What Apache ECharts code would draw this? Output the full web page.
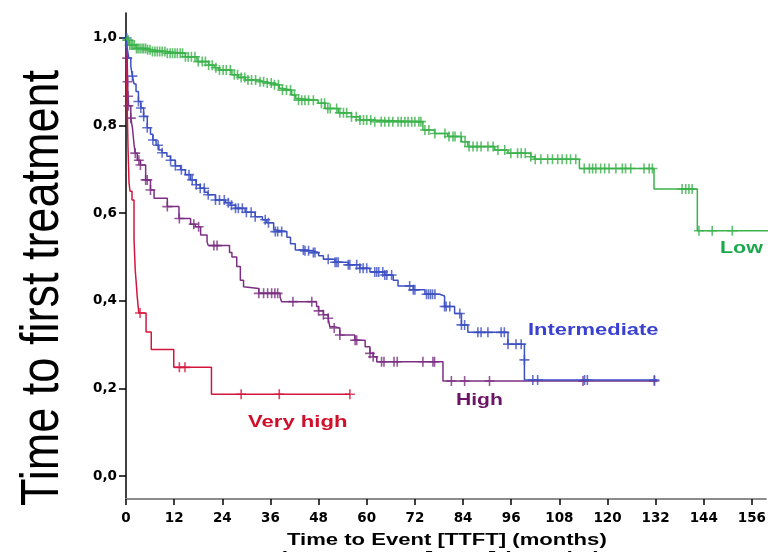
<!DOCTYPE html>
<html><head><meta charset="utf-8">
<script src="https://cdn.jsdelivr.net/npm/echarts@6/dist/echarts.min.js"></script>
<style>html,body{margin:0;padding:0;background:#fff}#c{width:769px;height:552px}</style>
</head><body><div id="c"></div>
<script>
// ---- tick labels ----
const xTicks = [0,12,24,36,48,60,72,84,96,108,120,132,144,156];
const yTicks = [0,0.2,0.4,0.6,0.8,1.0];

// ---- Very high (red): step times / survival after step ----
const vhT = [0,0.1,0.2,0.3,0.5,0.75,1.0,1.5,2.0,2.3,2.5,2.8,3.2,5.0,6.3,11.9,21.3,55.8];
const vhS = [1.0,0.95,0.90,0.843,0.75,0.67,0.65,0.63,0.54,0.47,0.447,0.409,0.372,0.329,0.289,0.248,0.1865,0.1865];
const vhCens = [3.5,13.3,14.7,28.7,38.2,55.8];

// ---- High (purple) ----
const hiT = [0,0.1,0.3,0.4,0.5,0.6,1.2,1.6,2.0,2.3,2.8,3.6,4.9,6.1,7.0,10.3,13.2,16.1,17.3,18.6,20.2,20.5,25.8,26.4,27.6,28.5,29.3,29.7,33.1,38.4,38.8,47.5,48.0,49.2,50.4,50.8,51.9,53.3,57.0,59.6,60.8,61.6,62.5,79.0,132.4];
const hiS = [1.0,0.98,0.954,0.90,0.867,0.845,0.817,0.795,0.757,0.737,0.721,0.71,0.676,0.653,0.634,0.615,0.588,0.575,0.569,0.55,0.535,0.526,0.51,0.5,0.478,0.447,0.432,0.428,0.417,0.408,0.398,0.387,0.377,0.368,0.36,0.341,0.338,0.322,0.31,0.295,0.28,0.272,0.261,0.217,0.217];
const hiCens = [0.3,0.4,0.5,0.6,1.2,2.3,3.2,3.6,4.9,5.3,6.1,10.3,13.3,16.9,18.1,21.9,22.7,33.1,34.3,35.3,36.3,37.1,37.8,41.6,46.3,48.0,49.2,50.4,51.9,53.3,57.1,57.5,60.8,61.6,63.7,64.3,66.8,67.6,74.0,76.5,76.9,81.1,84.4,90.6,113.9,131.7];

// ---- Intermediate (blue) ----
const imT = [0,0.3,0.7,1.2,1.6,2.0,2.5,3.1,3.7,4.4,5.3,6.1,6.7,7.5,8.2,9.0,10.2,11.1,12.3,13.6,14.8,16.1,17.5,18.5,19.6,20.4,22.3,24.8,26.0,27.3,29.7,32.2,34.0,35.1,36.8,37.0,40.1,41.0,42.2,44.6,46.7,48.0,49.2,52.1,55.4,58.3,60.8,64.5,66.6,67.8,71.6,74.5,78.2,79.4,81.9,83.6,85.2,95.2,99.3,132.4];
const imS = [1.0,0.977,0.954,0.935,0.913,0.895,0.878,0.855,0.84,0.821,0.795,0.78,0.767,0.755,0.744,0.738,0.73,0.721,0.708,0.699,0.688,0.676,0.665,0.657,0.648,0.642,0.63,0.624,0.618,0.611,0.602,0.592,0.585,0.578,0.562,0.558,0.545,0.53,0.516,0.514,0.51,0.503,0.495,0.488,0.482,0.474,0.466,0.459,0.447,0.434,0.425,0.415,0.411,0.387,0.371,0.345,0.328,0.301,0.219,0.219];
const imCens = [0.17,1.6,3.1,3.7,4.4,5.3,6.7,8.0,9.0,11.1,12.3,13.8,15.7,16.5,17.5,18.5,19.5,20.5,22.3,23.3,24.5,25.5,26.3,27.3,28.0,29.0,30.0,31.2,32.2,34.7,35.5,37.2,37.8,38.8,44.2,44.6,45.5,46.7,47.1,50.4,52.1,52.5,52.9,55.4,55.8,57.5,58.3,59.1,60.0,62.0,62.5,63.0,64.0,64.5,65.0,66.2,70.7,71.6,72.0,74.9,75.4,75.9,76.4,77.0,79.4,79.8,80.7,83.2,83.6,84.4,87.7,88.5,90.2,93.5,94.3,95.2,97.2,98.5,101.4,102.6,114.3,115.0,131.7];
const imCensExtra = [[99.3,0.265]];

// ---- Low (green) ----
const loT = [0,0.3,0.8,2.5,5.0,6.5,10.0,14.8,17.7,20.6,22.0,23.1,26.4,28.0,29.7,33.0,34.5,36.3,38.2,38.8,41.3,42.3,43.0,47.9,49.6,52.9,56.2,58.3,61.2,74.0,76.9,80.2,83.6,85.2,91.9,95.2,100.9,101.8,113.0,131.6,142.4,160];
const loS = [1.0,0.995,0.984,0.976,0.973,0.969,0.965,0.957,0.946,0.938,0.932,0.927,0.916,0.91,0.904,0.9,0.897,0.893,0.885,0.881,0.870,0.862,0.858,0.851,0.839,0.829,0.820,0.813,0.809,0.79,0.782,0.775,0.763,0.752,0.744,0.737,0.729,0.723,0.702,0.655,0.56,0.56];
const loCens = [0.3,0.6,0.9,1.3,1.7,2.1,2.6,3.0,3.5,4.0,4.4,4.9,5.4,6.0,6.6,7.2,7.8,8.4,9.0,9.7,10.3,11.0,11.6,12.2,12.8,13.5,14.1,14.8,15.5,16.3,17.2,18.0,19.0,19.8,20.6,21.5,22.4,23.3,24.2,25.0,26.0,27.0,27.8,28.7,29.6,30.4,31.3,32.3,33.4,34.3,35.2,36.2,37.0,38.0,39.0,40.0,41.0,42.0,43.0,43.8,44.6,45.5,46.7,48.7,49.5,50.3,50.9,52.5,53.3,54.2,55.0,56.2,57.4,58.3,59.2,60.0,61.0,62.0,63.6,64.5,65.5,66.5,67.8,68.6,69.5,70.3,71.2,72.0,73.0,73.5,74.5,75.5,77.0,79.5,80.5,81.5,82.0,83.5,84.5,85.5,86.5,87.5,88.5,90.2,91.5,92.7,94.4,95.9,97.6,98.5,99.5,100.9,102.0,103.4,105.1,106.3,107.6,108.7,109.8,110.8,112.1,114.2,115.5,116.3,117.1,118.3,119.3,120.4,122.1,123.7,124.5,125.8,129.1,130.4,131.2,138.6,139.5,140.3,141.1,142.8,146.1,151.1];

// ---- label texts ----
const groupNames = ['Very high','High','Intermediate','Low'];
const xTitle = 'Time to Event [TTFT] (months)';
const yTitle = 'Time to first treatment';

function pairs(T,S){ return T.map((t,i)=>[t,S[i]]); }
function stepAt(T,S,t){ let v=S[0]; for(let i=0;i<T.length;i++){ if(T[i]<=t) v=S[i]; else break; } return v; }
function cens(T,S,C){ return C.map(t=>[t, stepAt(T,S,t)]); }

const PLUS = 'path://M4.2,0H5.8V4.2H10V5.8H5.8V10H4.2V5.8H0V4.2H4.2Z';
const lineCol = {vh:'#d4163e', hi:'#7c2f82', im:'#3d50c2', lo:'#3bb24b'};

function lineSeries(T,S,col){
  return {type:'line', step:'end', data:pairs(T,S), showSymbol:false, symbol:'none',
    lineStyle:{color:col,width:1.5}, itemStyle:{color:col}, animation:false, silent:true, clip:true};
}
function censSeries(data,col){
  return {type:'scatter', data:data, symbol:PLUS, symbolSize:10, itemStyle:{color:col}, animation:false, silent:true};
}

const chart = echarts.init(document.getElementById('c'), null, {renderer:'canvas'});
const txtFont = 'bold 16.5px "Liberation Sans", Arial, sans-serif';
chart.setOption({
  backgroundColor:'#fff',
  animation:false,
  grid:{left:126, right:0, top:13, bottom:53, containLabel:false},
  xAxis:{type:'value', min:0, max:159.5,
    axisLine:{show:true, onZero:false, lineStyle:{color:'#8c8c8c', width:2}},
    axisTick:{show:true, length:6, customValues:xTicks, lineStyle:{color:'#000', width:1.5}},
    axisLabel:{customValues:xTicks, margin:12, color:'#000', fontFamily:'"DejaVu Sans"', fontWeight:'bold', fontSize:13.5},
    splitLine:{show:false}},
  yAxis:{type:'value', min:-0.0525, max:1.057,
    axisLine:{show:true, onZero:false, lineStyle:{color:'#000', width:1.5}},
    axisTick:{show:true, length:7, customValues:yTicks, lineStyle:{color:'#000', width:1.5}},
    axisLabel:{customValues:yTicks, margin:9, color:'#000', fontFamily:'"DejaVu Sans"', fontWeight:'bold', fontSize:13.5,
      formatter:v=>v.toFixed(1).replace('.',',')},
    splitLine:{show:false}},
  series:[
    lineSeries(vhT,vhS,lineCol.vh), censSeries(cens(vhT,vhS,vhCens),lineCol.vh),
    lineSeries(hiT,hiS,lineCol.hi), censSeries(cens(hiT,hiS,hiCens),lineCol.hi),
    lineSeries(imT,imS,lineCol.im), censSeries(cens(imT,imS,imCens).concat(imCensExtra),lineCol.im),
    lineSeries(loT,loS,lineCol.lo), censSeries(cens(loT,loS,loCens),lineCol.lo)
  ],
  graphic:[
    {type:'text', x:43.5, y:288, rotation:Math.PI/2, scaleY:1.18, silent:true,
      style:{text:yTitle, font:'45px "Liberation Sans", Arial, sans-serif', fill:'#000', align:'center', verticalAlign:'middle'}},
    {type:'text', x:287, y:533, scaleX:1.38, silent:true,
      style:{text:xTitle, font:'bold 16px "Liberation Sans", Arial, sans-serif', fill:'#000', align:'left', verticalAlign:'top'}},
    {type:'text', x:268, y:551.5, silent:true,
      style:{text:xTitle, font:'bold 23px "Liberation Sans", Arial, sans-serif', fill:'#000', align:'left', verticalAlign:'top'}},
    {type:'text', x:720, y:240, scaleX:1.3, silent:true,
      style:{text:groupNames[3], font:txtFont, fill:'#1ca84c', align:'left', verticalAlign:'top'}},
    {type:'text', x:528, y:321.5, scaleX:1.33, silent:true,
      style:{text:groupNames[2], font:txtFont, fill:'#3a40cf', align:'left', verticalAlign:'top'}},
    {type:'text', x:456, y:392, scaleX:1.28, silent:true,
      style:{text:groupNames[1], font:txtFont, fill:'#6c1466', align:'left', verticalAlign:'top'}},
    {type:'text', x:248, y:413.5, scaleX:1.34, silent:true,
      style:{text:groupNames[0], font:txtFont, fill:'#cf0f2b', align:'left', verticalAlign:'top'}}
  ]
});
</script>
</body></html>
